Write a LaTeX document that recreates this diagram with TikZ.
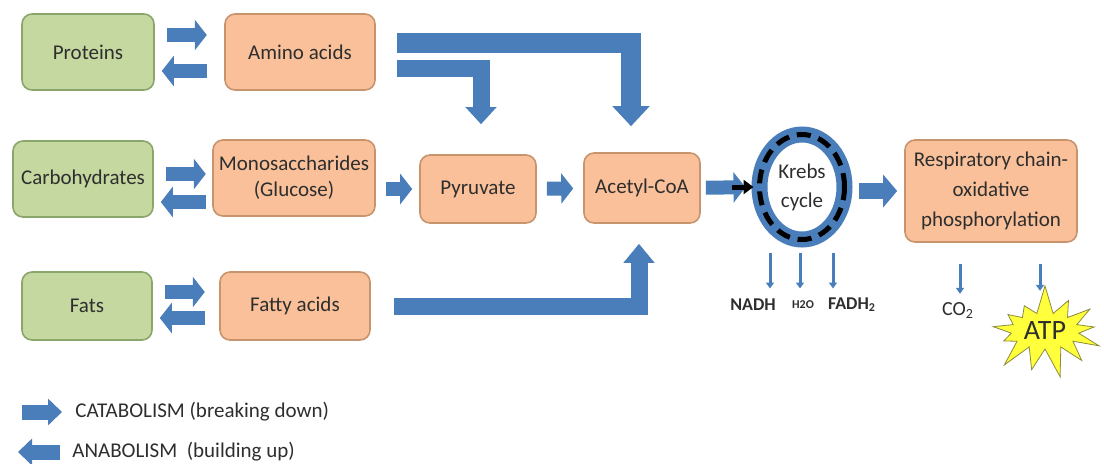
\documentclass[tikz,border=0pt]{standalone}
\usepackage{fontspec}
\setmainfont{Carlito}
\usetikzlibrary{arrows.meta,shapes.geometric,shapes.symbols}
\definecolor{arrblue}{HTML}{4A7EBB}
\definecolor{boxgreen}{HTML}{C4D8A0}
\definecolor{linegreen}{HTML}{8AA66A}
\definecolor{boxorange}{HTML}{F9C09A}
\definecolor{lineorange}{HTML}{C8946E}
\definecolor{txt}{HTML}{2E2E2E}
\definecolor{atpyellow}{HTML}{FFFF3C}
\definecolor{atpline}{HTML}{8C8C3C}

\begin{document}
\begin{tikzpicture}[x=0.5pt,y=0.5pt,
	srcbox/.style={draw=linegreen,fill=boxgreen,rounded corners=5pt,line width=0.8pt,text=txt,font=\fontsize{10.5}{13}\selectfont,align=center,inner sep=0pt,minimum height=38pt},
	midbox/.style={srcbox,draw=lineorange,fill=boxorange},
	blk/.style={arrblue,line width=7pt,-{Triangle[width=15pt,length=6pt]}},
	bigblk/.style={arrblue,line width=10pt,-{Triangle[width=18pt,length=10pt]}},
	smallarr/.style={arrblue,line width=1.5pt,-{Triangle[width=4pt,length=3pt]}},
	lbl/.style={text=txt,inner sep=0pt,font=\bfseries\fontsize{9}{11}\selectfont}]
			\useasboundingbox (0,0) rectangle (1104,-463);
			\node[srcbox,minimum width=66pt] (prot) at (88,-52) {Proteins};
			\node[midbox,minimum width=75pt] (amino) at (300,-52) {Amino acids};
			\node[srcbox,minimum width=70pt] (carb) at (83,-179) {Carbohydrates};
			\node[midbox,minimum width=81pt] (mono) at (294,-178) {Monosaccharides\\(Glucose)};
			\node[midbox,minimum width=58pt,minimum height=34pt] (pyr) at (478,-189) {Pyruvate};
			\node[midbox,minimum width=58pt,minimum height=35pt] (acetyl) at (642,-188) {Acetyl-CoA};
			\node[srcbox,minimum width=65pt,minimum height=34pt] (fats) at (87,-306) {Fats};
			\node[midbox,minimum width=75pt,minimum height=34pt] (fatty) at (295,-306) {Fatty acids};
			\node[ellipse,draw=arrblue,line width=8pt,minimum width=42.5pt,minimum height=52.5pt,inner sep=0pt,text=txt,align=center,font=\fontsize{10.5}{14.5}\selectfont] (krebs) at (802,-187) {Krebs\\cycle};
			\node[midbox,minimum width=86pt,minimum height=51pt,font=\fontsize{10.5}{15}\selectfont] (resp) at (991,-191) {Respiratory chain-\\oxidative\\phosphorylation};
			\node[starburst,starburst points=13,starburst point height=15pt,random starburst=7,draw=atpline,fill=atpyellow,minimum width=64pt,minimum height=48pt,inner sep=0pt,text=txt,font=\fontsize{14}{16}\selectfont] (atp) at (1045,-331) {ATP};
			\node[lbl] (nadh) at (753,-305) {NADH};
			\node[lbl,font=\bfseries\fontsize{6}{7}\selectfont] (water) at (803,-305) {H2O};
			\node[lbl] (fadh) at (852,-305) {FADH\textsubscript{2}};
			\node[lbl,font=\fontsize{10}{12}\selectfont] (co2) at (958,-310) {CO\textsubscript{2}};
			\node[lbl,anchor=west,font=\fontsize{10.5}{12}\selectfont] (catab) at (75,-412) {CATABOLISM (breaking down)};
			\node[lbl,anchor=west,font=\fontsize{10.5}{12}\selectfont] (anab) at (72,-452) {ANABOLISM\ \ (building up)};
			\coordinate (catstart) at (22,-412);
			\coordinate (anabend) at (18,-452);
			\foreach \a/\up/\dn in {prot/-35/-71, carb/-174/-202, fats/-292/-318} {
				\draw[blk] ([xshift=6pt]\a.east |- 0,\up) -- ([xshift=26pt]\a.east |- 0,\up);
				\draw[blk] ([xshift=26pt]\a.east |- 0,\dn) -- ([xshift=3.5pt]\a.east |- 0,\dn);};
			\draw[blk,shorten <=5pt,shorten >=3.5pt] (mono.east |- pyr) -- (pyr.west);
			\draw[blk,shorten <=5pt,shorten >=5pt] (pyr) -- (acetyl);
			\draw[blk,shorten <=2.5pt,shorten >=3pt] (acetyl) -- (krebs);
			\draw[black,line width=2.5pt,-{Triangle[width=7pt,length=5pt]}] ([xshift=-10pt]krebs.west) -- ([xshift=1pt]krebs.west);
			\draw[blk,line width=8pt,-{Triangle[width=16pt,length=7pt]},shorten <=3pt,shorten >=3.5pt] (krebs.east |- resp) -- (resp.west);
			\draw[bigblk,shorten >=13pt] ([xshift=10.5pt,yshift=4.5pt]amino.east) -| ([xshift=-5.5pt]acetyl.north);
			\draw[bigblk,line width=8.5pt,-{Triangle[width=15pt,length=8.5pt]},shorten >=15pt] ([xshift=10.5pt,yshift=-8pt]amino.east) -| ([xshift=1.5pt]pyr.north);
			\draw[bigblk,line width=8.5pt,-{Triangle[width=15pt,length=9.5pt]},shorten >=10pt] ([xshift=11.5pt]fatty.east) -| ([xshift=-1.5pt]acetyl.south);
			\draw[black,line width=2.5pt,dash pattern=on 7pt off 4pt] (krebs.center) ellipse (21.25pt and 26.25pt);
			\draw[smallarr] ([xshift=-16pt,yshift=-2.5pt]krebs.south) -- ([xshift=-16pt,yshift=-20.5pt]krebs.south);
			\draw[smallarr] ([xshift=-1pt,yshift=-2.5pt]krebs.south) -- ([xshift=-1pt,yshift=-20.5pt]krebs.south);
			\draw[smallarr] ([xshift=15.5pt,yshift=-2.5pt]krebs.south) -- ([xshift=15.5pt,yshift=-20.5pt]krebs.south);
			\draw[smallarr] ([xshift=-15.5pt,yshift=-10.5pt]resp.south) -- ([xshift=-15.5pt,yshift=-25.5pt]resp.south);
			\draw[smallarr] ([xshift=24.5pt,yshift=-10.5pt]resp.south) -- ([xshift=24.5pt,yshift=-24pt]resp.south);
			\draw[blk,line width=7.5pt,-{Triangle[width=13pt,length=7pt]}] (catstart) -- ([xshift=-6.5pt]catab.west);
			\draw[blk,line width=7.5pt,-{Triangle[width=13pt,length=7pt]}] ([xshift=-6pt]anab.west) -- (anabend);
		\end{tikzpicture}
\end{document}
